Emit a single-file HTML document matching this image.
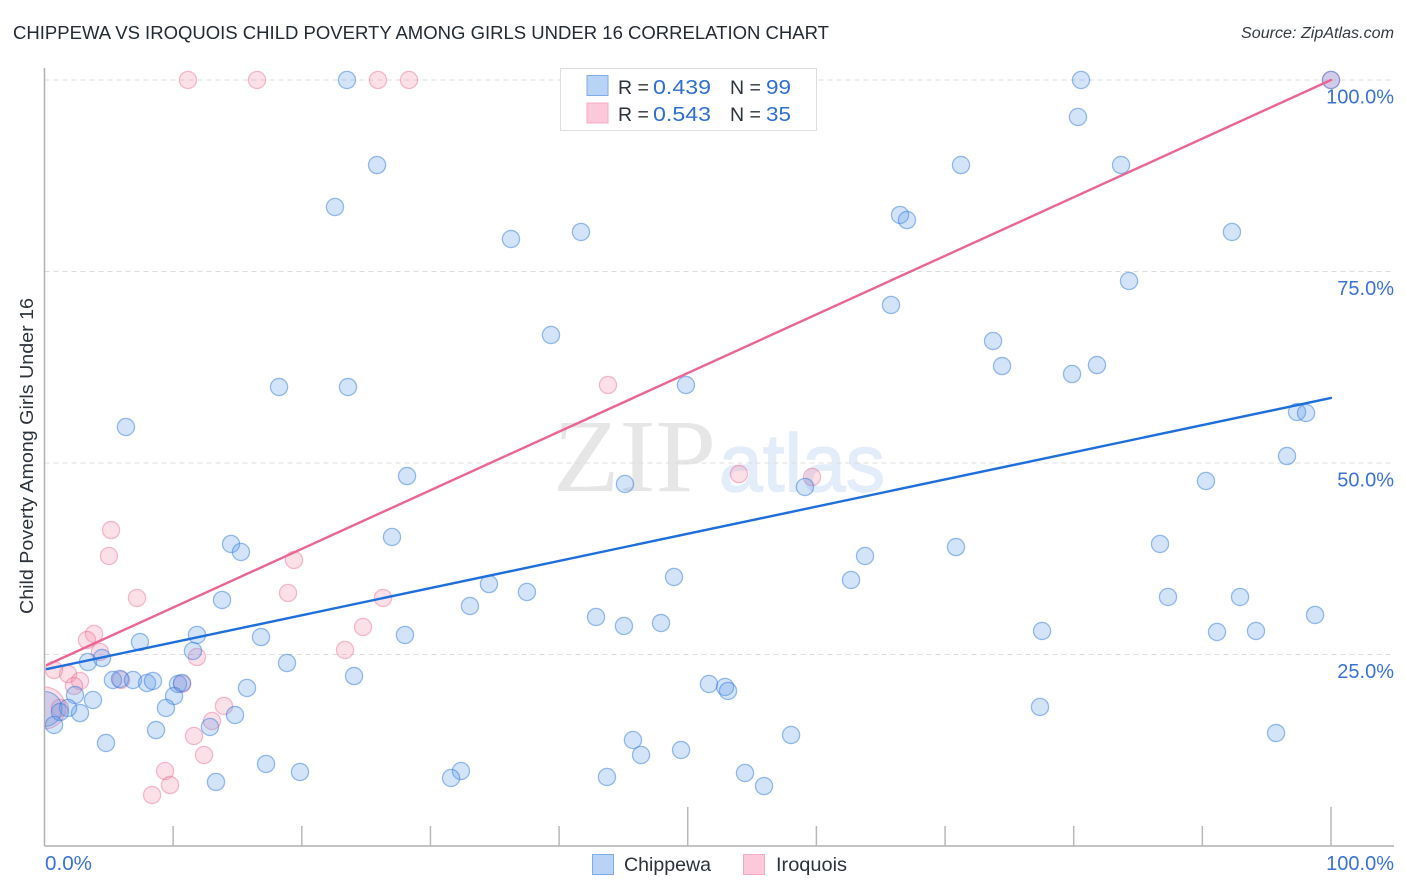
<!DOCTYPE html>
<html lang="en">
<head>
<meta charset="utf-8">
<title>Chippewa vs Iroquois Child Poverty Among Girls Under 16 Correlation Chart</title>
<style>
html,body{margin:0;padding:0;background:#fff;width:1406px;height:892px;overflow:hidden}
svg{display:block}
text{font-family:"Liberation Sans",Arial,sans-serif}
</style>
</head>
<body>
<svg id="chart" xmlns="http://www.w3.org/2000/svg" width="1406" height="892" viewBox="0 0 1406 892">
  <rect x="0" y="0" width="1406" height="892" fill="#ffffff"/>
  <text x="13" y="39" font-size="18.5" fill="#222a33" textLength="816" lengthAdjust="spacingAndGlyphs">CHIPPEWA VS IROQUOIS CHILD POVERTY AMONG GIRLS UNDER 16 CORRELATION CHART</text>
  <text x="1394" y="38" font-size="15.5" font-style="italic" fill="#333a42" text-anchor="end" textLength="153" lengthAdjust="spacingAndGlyphs">Source: ZipAtlas.com</text>
  <g>
    <text x="553" y="491" font-size="104" fill="#e6e6e6" style="font-family:'Liberation Serif',serif" textLength="163" lengthAdjust="spacingAndGlyphs">ZIP</text>
    <text x="719" y="491" font-size="82" fill="#e3ecf9" stroke="#e3ecf9" stroke-width="1.4" style="font-family:'Liberation Sans',sans-serif" textLength="166" lengthAdjust="spacingAndGlyphs">atlas</text>
  </g>
  <g id="grid"></g>
  <g id="points"></g>
  <rect x="0" y="60" width="44.5" height="786" fill="#ffffff"/>
  <g id="axes"></g>
  <g id="y-labels"></g>
  <g id="x-labels"></g>
  <text x="0" y="0" font-size="18.5" fill="#2d333a" text-anchor="middle" textLength="316" lengthAdjust="spacingAndGlyphs" transform="translate(33,456) rotate(-90)">Child Poverty Among Girls Under 16</text>
  <g id="trends"></g>

  <g>
    <rect x="560.5" y="68.5" width="256" height="62" fill="#ffffff" stroke="#dddddd" stroke-width="1"/>
    <rect x="587" y="75.5" width="21" height="20" fill="#b9d3f7" stroke="#7fabe6" stroke-width="1"/>
    <rect x="587" y="103" width="21" height="20" fill="#fdc8d9" stroke="#f5aac3" stroke-width="1"/>
    <text x="618" y="94" font-size="19.5" fill="#2d333a">R =</text>
    <text x="653" y="94" font-size="20.5" fill="#2f6fd0" textLength="58" lengthAdjust="spacingAndGlyphs">0.439</text>
    <text x="730" y="94" font-size="19.5" fill="#2d333a">N =</text>
    <text x="766" y="94" font-size="20.5" fill="#2f6fd0" textLength="25" lengthAdjust="spacingAndGlyphs">99</text>
    <text x="618" y="121" font-size="19.5" fill="#2d333a">R =</text>
    <text x="653" y="121" font-size="20.5" fill="#2f6fd0" textLength="58" lengthAdjust="spacingAndGlyphs">0.543</text>
    <text x="730" y="121" font-size="19.5" fill="#2d333a">N =</text>
    <text x="766" y="121" font-size="20.5" fill="#2f6fd0" textLength="25" lengthAdjust="spacingAndGlyphs">35</text>
  </g>

  <g>
    <rect x="592.5" y="854.5" width="21" height="20" fill="#b9d3f7" stroke="#7fabe6" stroke-width="1"/>
    <text x="624" y="871" font-size="19.5" fill="#2d333a" textLength="87" lengthAdjust="spacingAndGlyphs">Chippewa</text>
    <rect x="743.5" y="854.5" width="21" height="20" fill="#fdc8d9" stroke="#f5aac3" stroke-width="1"/>
    <text x="776" y="871" font-size="19.5" fill="#2d333a" textLength="71" lengthAdjust="spacingAndGlyphs">Iroquois</text>
  </g>
</svg>
<script>
const xTickValues = [10, 20, 30, 40, 50, 60, 70, 80, 90, 100];
const xMajorTicks = [50, 100];
const yGridValues = [25, 50, 75, 100];
const yTickLabels = ["25.0%", "50.0%", "75.0%", "100.0%"];
const xEndLabels = ["0.0%", "100.0%"];

const chippewaX = [100,80.57,23.51,80.33,25.85,71.24,83.68,22.58,66.50,67.04,36.26,41.70,92.30,84.30,65.80,39.37,73.73,74.43,81.81,79.87,18.23,23.59,49.86,97.36,98.06,6.33,96.58,28.18,90.28,45.12,59.11,27.01,14.50,15.27,86.71,70.85,63.78,62.69,48.93,34.55,37.50,87.33,92.93,13.80,33.07,42.87,98.76,45.04,47.92,91.14,94.17,77.54,28.02,11.85,16.83,7.42,11.54,3.38,4.47,18.85,24.06,5.32,5.87,6.88,7.97,8.43,10.38,10.69,10.07,15.74,51.65,52.90,53.13,2.37,3.77,9.44,14.81,77.38,2.76,1.83,1.20,0.74,8.67,12.86,4.78,45.74,46.37,49.48,58.03,95.73,17.22,19.86,32.37,31.60,43.72,54.45,55.93,13.33];
const chippewaY = [100,100,100,95.17,88.90,88.90,88.90,83.42,82.38,81.72,79.24,80.16,80.16,73.76,70.63,66.71,65.93,62.66,62.79,61.62,59.92,59.92,60.18,56.66,56.53,54.70,50.91,48.30,47.65,47.26,46.87,40.34,39.43,38.38,39.43,39.03,37.86,34.73,35.12,34.20,33.16,32.51,32.51,32.12,31.33,29.90,30.16,28.72,29.11,27.94,28.07,28.07,27.55,27.55,27.28,26.63,25.46,24.02,24.54,23.89,22.19,21.67,21.80,21.67,21.28,21.54,21.15,21.28,19.58,20.63,21.15,20.76,20.24,19.71,19.06,18.02,17.10,18.15,17.36,18.02,17.49,15.80,15.14,15.54,13.45,13.84,11.88,12.53,14.49,14.75,10.71,9.66,9.79,8.88,9.01,9.53,7.83,8.36];
const chippewaPooled = [0, 17.89];

const iroquoisX = [11.15,16.52,25.92,28.33,100,43.80,53.98,59.66,5.17,5.01,19.39,18.93,7.19,26.31,24.76,3.85,3.30,23.36,4.31,11.85,0.74,1.83,2.76,2.29,5.95,10.69,13.95,13.02,11.62,12.40,9.37,9.76,8.36,1.20];
const iroquoisY = [100,100,100,100,100,60.18,48.56,48.17,41.25,37.86,37.34,33.03,32.38,32.38,28.59,27.68,26.89,25.59,25.33,24.67,22.98,22.45,21.54,20.89,21.67,21.15,18.28,16.32,14.36,11.88,9.79,7.96,6.66,18.02];
const iroquoisPooled = [0, 18.02];

const chippewaTrendX = [0.19, 100];
const chippewaTrendY = [23.1, 58.49];
const iroquoisTrendX = [0.19, 100];
const iroquoisTrendY = [23.63, 100];

const NS = "http://www.w3.org/2000/svg";
const plotLeft = 44.5, plotRight = 1331, plotBottom = 846, plotTop = 80;
function xScale(v) { return plotLeft + (plotRight - plotLeft) * v / 100; }
function yScale(v) { return plotBottom - (plotBottom - plotTop) * v / 100; }
function make(tag, attrs) {
  const el = document.createElementNS(NS, tag);
  for (const k in attrs) el.setAttribute(k, attrs[k]);
  return el;
}

const grid = document.getElementById("grid");
yGridValues.forEach(function (v) {
  const line = make("line", { x1: plotLeft, x2: 1394, y1: yScale(v), y2: yScale(v), stroke: "#dcdcdc", "stroke-width": 1, "stroke-dasharray": "5 4" });
  
  
  grid.appendChild(line);
});

const axes = document.getElementById("axes");
const yAxisLine = make("line", { x1: plotLeft, x2: plotLeft, y1: 68, y2: plotBottom, stroke: "#b0b0b0", "stroke-width": 1.5 });


axes.appendChild(yAxisLine);
const xAxisLine = make("line", { x1: plotLeft, x2: 1394, y1: plotBottom, y2: plotBottom, stroke: "#b0b0b0", "stroke-width": 1.5 });


axes.appendChild(xAxisLine);
xTickValues.forEach(function (v) {
  const top = xMajorTicks.includes(v) ? 807 : 826;
  const tick = make("line", { x1: xScale(v), x2: xScale(v), y1: top, y2: plotBottom, stroke: "#b8b8b8", "stroke-width": 1.5 });
  
  
  axes.appendChild(tick);
});

const yLabels = document.getElementById("y-labels");
yGridValues.forEach(function (v, i) {
  const t = make("text", { x: 1394, y: yScale(v) + 23.5, "font-size": 20, fill: "#3b72d4", "text-anchor": "end" });
  
  
  t.textContent = yTickLabels[i];
  yLabels.appendChild(t);
});

const xLabels = document.getElementById("x-labels");
const xLabelLeft = make("text", { x: 45, y: 870, "font-size": 20, fill: "#3b72d4", textLength: 47, lengthAdjust: "spacingAndGlyphs" });


xLabelLeft.textContent = xEndLabels[0];
xLabels.appendChild(xLabelLeft);
const xLabelRight = make("text", { x: 1394, y: 870, "font-size": 20, fill: "#3b72d4", "text-anchor": "end" });


xLabelRight.textContent = xEndLabels[1];
xLabels.appendChild(xLabelRight);

const points = document.getElementById("points");
const blueStyle = { fill: "#5b9be8", "fill-opacity": 0.27, stroke: "#2f78dc", "stroke-opacity": 0.48, "stroke-width": 1.3 };
const pinkStyle = { fill: "#f58cab", "fill-opacity": 0.27, stroke: "#e8608f", "stroke-opacity": 0.4, "stroke-width": 1.3 };
function drawPoint(xv, yv, r, style, name) {
  const c = make("circle", Object.assign({ cx: xScale(xv), cy: yScale(yv), r: r }, style));
  
  
  points.appendChild(c);
}
drawPoint(iroquoisPooled[0], iroquoisPooled[1], 21, pinkStyle, 'iroquois-pooled-point');
iroquoisX.forEach(function (x, i) { drawPoint(x, iroquoisY[i], 8.6, pinkStyle, 'iroquois-point'); });
drawPoint(chippewaPooled[0], chippewaPooled[1], 17.5, blueStyle, 'chippewa-pooled-point');
chippewaX.forEach(function (x, i) { drawPoint(x, chippewaY[i], 8.6, blueStyle, 'chippewa-point'); });

const trends = document.getElementById("trends");
const chippewaTrend = make("line", { x1: xScale(chippewaTrendX[0]), y1: yScale(chippewaTrendY[0]), x2: xScale(chippewaTrendX[1]), y2: yScale(chippewaTrendY[1]), stroke: "#1e6fdb", "stroke-width": 2.4, "stroke-linecap": "round" });


trends.appendChild(chippewaTrend);
const iroquoisTrend = make("line", { x1: xScale(iroquoisTrendX[0]), y1: yScale(iroquoisTrendY[0]), x2: xScale(iroquoisTrendX[1]), y2: yScale(iroquoisTrendY[1]), stroke: "#ea6593", "stroke-width": 2.4, "stroke-linecap": "round" });


trends.appendChild(iroquoisTrend);
</script>
</body>
</html>
